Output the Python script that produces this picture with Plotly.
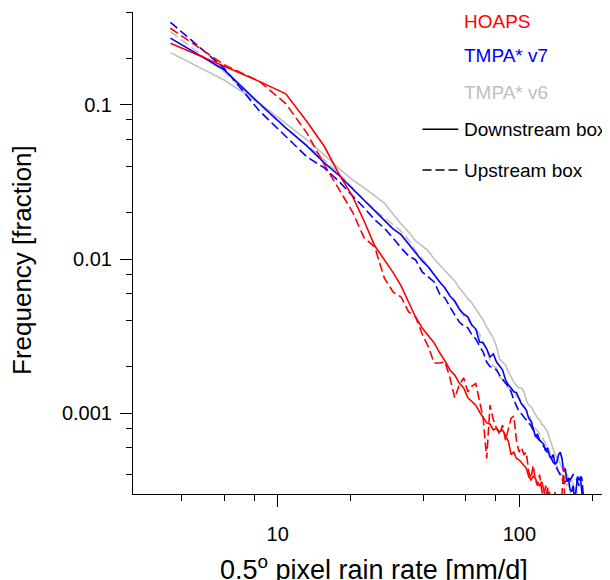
import numpy as np
import plotly.graph_objects as go

# rain-rate bin centres [mm/d]
rain_rate = [3.6, 6.0, 8.4, 10.8, 13.2, 15.6, 18.0, 20.4, 22.8, 25.2,
             27.6, 30.0, 32.4, 34.8, 37.2, 39.6, 42.0, 44.4, 46.8, 49.2,
             51.6, 54.0, 56.4, 58.8, 61.2, 63.6, 66.0, 68.4, 70.8, 73.2,
             75.6, 78.0, 80.4, 82.8, 85.2, 87.6, 90.0, 92.4, 94.8, 97.2,
             99.6, 102.0, 104.4, 106.8, 109.2, 111.6, 114.0, 116.4, 118.8, 121.2,
             123.6, 126.0, 128.4, 130.8, 133.2, 135.6, 138.0, 140.4, 142.8, 145.2,
             147.6, 150.0, 152.4, 154.8, 157.2, 159.6, 162.0, 164.4, 166.8, 169.2,
             171.6, 174.0, 176.4, 178.8, 181.2, 183.6, 186.0, 188.4, 190.8, 193.2,
             195.6, 198.0, 200.4, 202.8, 205.2, 207.6, 210.0, 212.4, 214.8, 217.2,
             219.6, 222.0, 224.4]

hoaps_down = [0.251, 0.177, 0.142, 0.118, 0.078, 0.0537, 0.0352, 0.0255, 0.0176, 0.0122,
              0.0100, 0.0082, 0.0067, 0.0052, 0.0042, 0.00358, 0.00318, 0.00286, 0.00247, 0.00219,
              0.00191, 0.00177, 0.00157, 0.00146, 0.00126, 0.00120, 0.00113, 0.00102, 0.00093, 0.00087,
              0.00085, 0.00078, 0.00080, 0.00076, 0.00078, 0.00071, 0.00066, 0.00054, 0.00056, 0.00051,
              0.00050, 0.00048, 0.000456, 0.00044, 0.00039, 0.00037, 0.00039, 0.00038, 0.00035, 0.00034,
              0.00036, 0.00032, 0.00027, 0.00033, 0.00025, 0.00030, 0.0002, 0.00031, 0.0002, 0.00028,
              0.0001]
hoaps_up = [0.314, 0.182, 0.142, 0.102, 0.0658, 0.0408, 0.0281, 0.0202, 0.0137, 0.0120,
            0.00755, 0.00612, 0.00568, 0.00455, 0.00422, 0.00327, 0.00270, 0.00212, 0.00212, 0.00216,
            0.00170, 0.00126, 0.00153, 0.00170, 0.00138, 0.00150, 0.00156, 0.00122, 0.00093, 0.00051,
            0.00113, 0.00091, 0.00080, 0.00073, 0.00084, 0.00067, 0.00078, 0.00093, 0.00096, 0.00067,
            0.00056, 0.00060, 0.00054, 0.00056, 0.00042, 0.00038, 0.00046, 0.00037, 0.00034, 0.00040,
            0.00032, 0.00027, 0.00034, 0.00025, 0.00031, 0.0002, 0.00029, 0.0002, 0.0002, 0.00026,
            0.0002, 0.00030, 0.00045, 0.0002, 0.0001]
v7_down = [0.271, 0.169, 0.102, 0.0710, 0.0542, 0.0421, 0.0347, 0.0285, 0.0242, 0.0206,
           0.0177, 0.0157, 0.0144, 0.0126, 0.0110, 0.00973, 0.00890, 0.00790, 0.00711, 0.00650,
           0.00577, 0.00535, 0.00475, 0.00441, 0.00421, 0.00374, 0.00352, 0.00290, 0.00287, 0.00262,
           0.00232, 0.00243, 0.00215, 0.00203, 0.00191, 0.00165, 0.00153, 0.00146, 0.00138, 0.00136,
           0.00126, 0.00115, 0.00110, 0.00105, 0.00093, 0.00089, 0.00080, 0.00071, 0.00073, 0.00067,
           0.00065, 0.00063, 0.00057, 0.00060, 0.00053, 0.00051, 0.00054, 0.00047, 0.00048, 0.00054,
           0.00056, 0.00051, 0.00042, 0.00044, 0.00036, 0.00038, 0.00032, 0.00031, 0.00034, 0.00027,
           0.00032, 0.00039, 0.00037, 0.00038, 0.00031, 0.00022, 0.0001, 0.0001, 0.0001, 0.0001,
           0.0001, 0.0001, 0.0001, 0.0001, 0.0001, 0.0001, 0.0001, 0.0001, 0.0001, 0.0001,
           0.0001, 0.0001, 0.00034]
v7_up = [0.343, 0.173, 0.0914, 0.0630, 0.0461, 0.0390, 0.0317, 0.0257, 0.0215, 0.0180,
         0.0159, 0.0137, 0.0118, 0.0105, 0.00988, 0.00826, 0.00767, 0.00711, 0.00594, 0.00560,
         0.00489, 0.00435, 0.00391, 0.00369, 0.00358, 0.00322, 0.00304, 0.00273, 0.00250, 0.00215,
         0.00201, 0.00198, 0.00191, 0.00177, 0.00165, 0.00157, 0.00150, 0.00138, 0.00122, 0.00111,
         0.00103, 0.00099, 0.00095, 0.00091, 0.00087, 0.00083, 0.00078, 0.00073, 0.00069, 0.00067,
         0.00064, 0.00061, 0.00058, 0.00056, 0.00053, 0.00051, 0.00048, 0.00047, 0.00044, 0.00042,
         0.00040, 0.00038, 0.00035, 0.00036, 0.00037, 0.00038, 0.00037, 0.00039, 0.00040, 0.00039,
         0.00038, 0.00036, 0.00034, 0.00039, 0.00038, 0.00030, 0.00025, 0.0001]
v6_down = [0.218, 0.145, 0.103, 0.0753, 0.0593, 0.0474, 0.0385, 0.0326, 0.0290, 0.0257,
           0.0231, 0.0196, 0.0169, 0.0150, 0.0131, 0.0122, 0.0113, 0.0100, 0.00917, 0.00851,
           0.00778, 0.00722, 0.00650, 0.00604, 0.00552, 0.00520, 0.00475, 0.00435, 0.00403, 0.00363,
           0.00332, 0.00308, 0.00270, 0.00225, 0.00215, 0.00205, 0.00186, 0.00170, 0.00160, 0.00151,
           0.00146, 0.00146, 0.00138, 0.00122, 0.00113, 0.00111, 0.00105, 0.00099, 0.00093, 0.00091,
           0.00085, 0.00083, 0.00080, 0.00076, 0.00069, 0.00063, 0.00058, 0.00054, 0.00051, 0.00050,
           0.00047, 0.00044, 0.00042, 0.00041, 0.00040, 0.00038, 0.00036, 0.00037, 0.00035, 0.00032,
           0.00033, 0.00029, 0.00025, 0.0001]
v6_up = [0.298, 0.164, 0.100, 0.071, 0.0551, 0.0440, 0.0357, 0.0290, 0.0242, 0.0209,
         0.0185, 0.0167, 0.0152, 0.0133, 0.0113, 0.0100, 0.00903, 0.00790, 0.00711, 0.00650,
         0.00586, 0.00527, 0.00468, 0.00428, 0.00403, 0.00369, 0.00352, 0.00327, 0.00282, 0.00258,
         0.00222, 0.00203, 0.00197, 0.00172, 0.00165, 0.00153, 0.00146, 0.00138, 0.00134, 0.00130,
         0.00126, 0.00119, 0.00113, 0.00105, 0.00099, 0.00091, 0.00085, 0.00080, 0.00077, 0.00074,
         0.00071, 0.00067, 0.00064, 0.00060, 0.00056, 0.00053, 0.00050, 0.00047, 0.00046, 0.00042,
         0.00041, 0.00040, 0.00039, 0.00038, 0.00034, 0.00035, 0.00031, 0.00027, 0.0001]

x_ticks = [10, 100]
x_minor = [4, 6, 8, 20, 40, 60, 80, 200]
y_ticks = [0.001, 0.01, 0.1]
y_tick_text = ["0.001", "0.01", "0.1"]
y_minor = [0.0004, 0.0006, 0.0008, 0.002, 0.004, 0.006, 0.008,
           0.02, 0.04, 0.06, 0.08, 0.2, 0.4]

RED, BLUE, GREY = "#ff0000", "#0000ff", "#c0c0c0"
DASH = "9px,4px"
FONT = "Liberation Sans, Arial, Helvetica, sans-serif"

series = [
    (v6_down, GREY, "solid"),
    (v6_up, GREY, DASH),
    (v7_down, BLUE, "solid"),
    (v7_up, BLUE, DASH),
    (hoaps_down, RED, "solid"),
    (hoaps_up, RED, DASH),
]

fig = go.Figure()
for vals, col, dash in series:
    fig.add_trace(go.Scatter(x=rain_rate[:len(vals)], y=vals, mode="lines",
                             line=dict(color=col, width=1.6, dash=dash),
                             showlegend=False))

fig.update_xaxes(type="log", range=[np.log10(2.52), np.log10(237)],
                 tickvals=x_ticks, ticktext=[str(v) for v in x_ticks],
                 ticks="outside", ticklen=12, tickwidth=1, tickcolor="black",
                 ticklabelstandoff=10, automargin=False,
                 minor=dict(tickvals=x_minor, ticks="outside", ticklen=6, tickcolor="black"),
                 showline=True, linecolor="black", linewidth=1, showgrid=False, zeroline=False,
                 tickfont=dict(size=20, color="black"))
fig.update_yaxes(type="log", range=[np.log10(0.0003), np.log10(0.4)],
                 tickvals=y_ticks, ticktext=y_tick_text,
                 ticks="outside", ticklen=12, tickwidth=1, tickcolor="black",
                 ticklabelstandoff=4, automargin=False,
                 minor=dict(tickvals=y_minor, ticks="outside", ticklen=6, tickcolor="black"),
                 showline=True, linecolor="black", linewidth=1, showgrid=False, zeroline=False,
                 tickfont=dict(size=20, color="black"))

# axis titles as annotations: the x title runs off the bottom edge like the original
fig.add_annotation(x=0.5, y=0, xref="paper", yref="paper", yshift=-55, xshift=2,
                   text="0.5<sup>o</sup> pixel rain rate [mm/d]", showarrow=False,
                   xanchor="center", yanchor="top",
                   font=dict(size=27, color="black"))
fig.add_annotation(x=0, y=0.4855, xref="paper", yref="paper", xshift=-111,
                   text="Frequency [fraction]", textangle=-90, showarrow=False,
                   xanchor="center", yanchor="middle",
                   font=dict(size=26, color="black"))

# legend: coloured product names, then line-style samples
labels = [("HOAPS", RED, 0.980), ("TMPA* v7", BLUE, 0.909), ("TMPA* v6", GREY, 0.833)]
for txt, col, yp in labels:
    fig.add_annotation(x=0.6897, y=yp, xref="paper", yref="paper", text=txt,
                       showarrow=False, xanchor="left", yanchor="middle",
                       font=dict(size=19, color=col))
styles = [("Downstream box", "solid", 0.757), ("Upstream box", DASH, 0.672)]
for txt, dash, yp in styles:
    fig.add_shape(type="line", xref="paper", yref="paper", x0=0.607, x1=0.682,
                  y0=yp, y1=yp, line=dict(color="black", width=1.5, dash=dash))
    fig.add_annotation(x=0.690, y=yp, xref="paper", yref="paper", text=txt,
                       showarrow=False, xanchor="left", yanchor="middle",
                       font=dict(size=19, color="black"))

# the page adds an 8px body margin, so the figure is 8px smaller and the
# left/top margins 8px narrower to land the axes where the reference has them
fig.update_layout(width=602, height=572,
                  margin=dict(l=125, r=0, t=4, b=86, autoexpand=False),
                  plot_bgcolor="white", paper_bgcolor="white",
                  font=dict(family=FONT, color="black"))
fig.write_html("out.html")
